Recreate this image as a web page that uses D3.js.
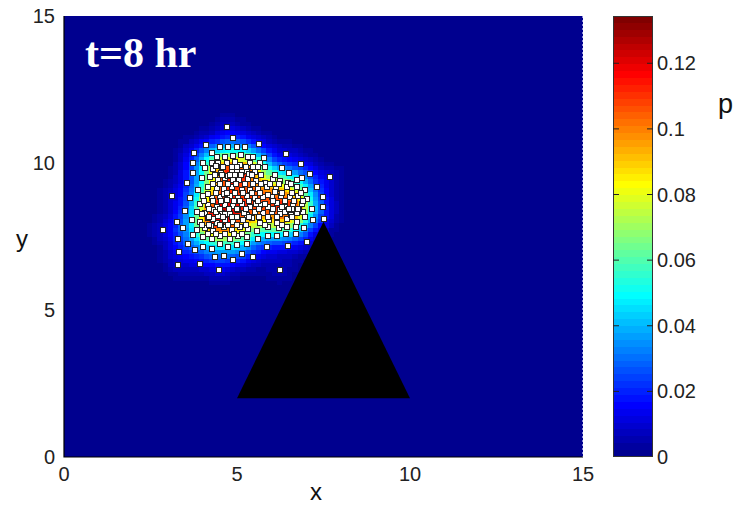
<!DOCTYPE html>
<html>
<head>
<meta charset="utf-8">
<script src="https://cdn.jsdelivr.net/npm/d3@7"></script>
<style>
  body { margin: 0; background: #fff; }
  text { font-family: Arial, "Liberation Sans", sans-serif; }
</style>
</head>
<body>
<div id="chart"></div>
<script>
// particle positions (x, y)
const partX = [
  4.70, 4.89, 4.10, 5.64, 4.51, 4.75, 5.01, 5.23,
  3.76, 4.27, 6.42, 4.41, 4.65, 4.89, 5.11, 5.33, 5.47, 5.79,
  3.72, 4.03, 4.27, 4.46, 4.70, 4.94, 5.09, 5.38, 5.67, 6.84,
  3.72, 4.08, 4.32, 4.56, 4.85, 5.01, 5.28, 5.52, 5.81, 6.30, 6.49, 7.11,
  3.55, 3.98, 4.22, 4.46, 4.65, 4.89, 5.07, 5.33, 5.55, 5.81, 6.03, 6.24, 6.46, 6.72, 6.87, 7.69,
  3.88, 4.17, 4.41, 4.61, 4.85, 5.14, 5.38, 5.62, 5.86, 6.13, 6.44, 6.72, 6.97, 7.30,
  3.12, 3.64, 4.03, 4.27, 4.51, 4.80, 5.04, 5.28, 5.52, 5.76, 6.00, 6.26, 6.53, 6.77, 7.01, 7.48,
  3.93, 4.17, 4.41, 4.65, 4.89, 5.14, 5.38, 5.67, 5.91, 6.15, 6.39, 6.63, 6.87, 7.16, 7.48,
  3.51, 3.84, 4.08, 4.32, 4.56, 4.80, 5.04, 5.28, 5.52, 5.76, 6.00, 6.24, 6.48, 6.72, 6.92, 7.50,
  3.26, 3.69, 3.93, 4.17, 4.41, 4.65, 4.89, 5.18, 5.42, 5.67, 5.93, 6.15, 6.44, 6.72, 6.97, 7.21,
  2.87, 3.45, 3.84, 4.08, 4.32, 4.61, 4.85, 5.09, 5.33, 5.57, 5.91, 6.20, 6.44, 6.70, 6.94,
  3.30, 3.74, 4.03, 4.27, 4.51, 4.80, 5.04, 5.28, 5.62, 5.91, 6.17, 6.42, 6.70, 7.01,
  3.31, 3.59, 3.79, 4.03, 4.27, 4.51, 4.75, 4.99, 5.28, 5.86, 6.46,
  4.36, 4.61, 4.89, 5.14, 5.45,
  3.30, 3.93, 4.49, 6.24,
  5.00, 5.15, 5.25, 5.35, 4.95,
  4.30, 4.45, 4.55, 4.25, 4.40, 4.65,
  6.25, 6.40, 6.55, 6.60, 6.30, 6.80,
  5.65, 5.80, 5.55,
  4.70, 4.62, 4.90,
  4.55, 4.75, 4.40,
  5.00, 5.20, 5.90, 6.10, 4.15, 4.00,
  4.60, 4.85, 5.45, 5.60,
  4.35, 4.58, 4.80, 5.12, 5.42, 5.70, 6.10,
  4.30, 4.52, 4.75, 4.98, 5.22, 5.46, 5.70, 5.95, 6.20, 6.55,
  4.40, 4.70, 4.95, 5.18, 5.42, 5.66, 6.30, 6.60, 6.85,
  4.05, 4.30, 4.55, 5.10, 5.35, 5.62, 6.05, 6.40, 6.65, 6.92,
  4.20, 4.52, 4.78, 5.00, 5.25, 6.05, 6.50, 6.75,
  4.20, 4.60, 4.85, 5.35, 5.65, 5.90, 6.15, 6.60,
  4.00, 4.20, 4.50, 4.75, 5.00, 5.25, 5.80, 6.30,
  4.15, 4.40, 4.65, 4.92, 5.15
];
const partY = [
  11.23, 10.84, 10.61, 10.64, 10.55, 10.55, 10.55, 10.55,
  10.35, 10.35, 10.30, 10.21, 10.21, 10.24, 10.27, 10.21, 10.21, 10.16,
  10.01, 10.01, 9.99, 10.01, 9.99, 10.04, 9.93, 10.01, 9.99, 9.96,
  9.67, 9.82, 9.78, 9.85, 9.74, 9.76, 9.74, 9.70, 9.85, 9.82, 9.67, 9.62,
  9.33, 9.48, 9.53, 9.42, 9.48, 9.42, 9.42, 9.44, 9.40, 9.33, 9.44, 9.40, 9.33, 9.42, 9.48, 9.51,
  9.08, 9.17, 9.14, 9.10, 9.19, 9.08, 9.08, 9.10, 9.17, 9.10, 9.17, 9.19, 9.08, 9.17,
  8.87, 8.80, 8.87, 8.80, 8.85, 8.87, 8.80, 8.87, 8.80, 8.83, 8.83, 8.87, 8.83, 8.87, 8.76, 8.83,
  8.60, 8.57, 8.51, 8.57, 8.53, 8.60, 8.51, 8.57, 8.49, 8.63, 8.51, 8.57, 8.60, 8.42, 8.49,
  8.38, 8.34, 8.29, 8.40, 8.31, 8.26, 8.40, 8.23, 8.34, 8.29, 8.34, 8.40, 8.40, 8.29, 8.34, 8.10,
  8.00, 8.06, 8.00, 8.12, 7.97, 8.06, 8.00, 8.06, 8.12, 7.97, 8.06, 7.95, 8.08, 8.00, 8.17, 8.06,
  7.72, 7.78, 7.72, 7.78, 7.70, 7.83, 7.72, 7.81, 7.74, 7.70, 7.81, 7.78, 7.83, 7.83, 7.78,
  7.43, 7.55, 7.49, 7.43, 7.51, 7.43, 7.51, 7.47, 7.43, 7.51, 7.51, 7.58, 7.58, 7.32,
  6.98, 7.26, 7.04, 7.15, 7.09, 7.26, 7.13, 7.21, 7.26, 7.13, 7.17,
  6.81, 6.85, 6.70, 6.92, 6.81,
  6.52, 6.58, 6.36, 6.36,
  9.85, 9.70, 9.88, 9.62, 9.60,
  8.10, 8.20, 7.90, 7.85, 8.35, 8.25,
  8.25, 8.35, 8.22, 8.45, 8.52, 8.45,
  8.45, 8.60, 8.62,
  8.75, 8.95, 8.70,
  9.65, 9.55, 9.90,
  8.15, 8.30, 8.90, 9.00, 8.95, 8.25,
  9.88, 9.88, 9.88, 9.88,
  9.58, 9.58, 9.58, 9.58, 9.58, 9.58, 9.58,
  9.27, 9.27, 9.27, 9.27, 9.27, 9.27, 9.27, 9.27, 9.27, 9.27,
  8.98, 8.98, 8.98, 8.98, 8.98, 8.98, 8.98, 8.98, 8.98,
  8.70, 8.70, 8.70, 8.70, 8.70, 8.70, 8.70, 8.70, 8.70, 8.70,
  8.45, 8.45, 8.45, 8.45, 8.45, 8.45, 8.45, 8.45,
  8.18, 8.18, 8.18, 8.18, 8.18, 8.18, 8.18, 8.18,
  7.88, 7.88, 7.88, 7.88, 7.88, 7.88, 7.88, 7.88,
  7.60, 7.60, 7.60, 7.60, 7.60
];

// obstacle corners
const triX = [5, 10, 7.5];
const triY = [2, 2, 8];

const xTicks = [0, 5, 10, 15];
const yTicks = [0, 5, 10, 15];
const cTicks = [0, 0.02, 0.04, 0.06, 0.08, 0.1, 0.12];
const cMax = 0.1344;
const label = "t=8 hr";

// MATLAB jet(64)
function jet(m) {
  const n = Math.ceil(m / 4);
  const u = [];
  for (let i = 1; i <= n; i++) u.push(i / n);
  for (let i = 1; i < n; i++) u.push(1);
  for (let i = n; i >= 1; i--) u.push(i / n);
  const g0 = Math.ceil(n / 2) - (m % 4 === 1 ? 1 : 0);
  const pick = (k) => (k >= 1 && k <= u.length ? u[k - 1] : 0);
  const out = [];
  for (let i = 1; i <= m; i++) {
    const r = pick(i - g0 - n), g = pick(i - g0), b = pick(i - g0 + n);
    out.push(d3.rgb(r * 255, g * 255, b * 255).formatHex());
  }
  return out;
}
const colors = jet(64);

const W = 739, H = 505;
const svg = d3.select("#chart").append("svg")
  .attr("width", W).attr("height", H);

const x = d3.scaleLinear().domain([0, 15]).range([64, 583]);
const y = d3.scaleLinear().domain([0, 15]).range([457, 16]);
const color = d3.scaleQuantize().domain([0, cMax]).range(colors);

// density field from the particles (gaussian kernel)
const nCell = 100, cell = 15 / nCell, h = 0.32;
const norm = 1 / (partX.length * 2 * Math.PI * h * h);
const cells = [];
for (let j = 0; j < nCell; j++) {
  for (let i = 0; i < nCell; i++) {
    const cx = (i + 0.5) * cell, cy = (j + 0.5) * cell;
    let s = 0;
    for (let k = 0; k < partX.length; k++) {
      const dx = partX[k] - cx, dy = partY[k] - cy;
      const d2 = dx * dx + dy * dy;
      if (d2 < 36 * h * h) s += Math.exp(-d2 / (2 * h * h));
    }
    cells.push({ i, j, p: s * norm });
  }
}

svg.append("g")
  .attr("shape-rendering", "crispEdges")
  .selectAll("rect")
  .data(cells)
  .join("rect")
  .attr("x", d => x(d.i * cell))
  .attr("y", d => y((d.j + 1) * cell))
  .attr("width", d => x((d.i + 1) * cell) - x(d.i * cell))
  .attr("height", d => y(d.j * cell) - y((d.j + 1) * cell))
  .attr("fill", d => color(d.p));

// obstacle
svg.append("polygon")
  .attr("points", triX.map((v, i) => `${x(v)},${y(triY[i])}`).join(" "))
  .attr("fill", "#000");

// particles
svg.append("g")
  .selectAll("rect")
  .data(partX.map((v, i) => [v, partY[i]]))
  .join("rect")
  .attr("x", d => Math.round(x(d[0])) - 2.5)
  .attr("y", d => Math.round(y(d[1])) - 2.5)
  .attr("width", 5)
  .attr("height", 5)
  .attr("fill", "#fff")
  .attr("stroke", "#222")
  .attr("stroke-width", 1);

// right edge artefact
svg.append("line")
  .attr("x1", x(15) - 0.5).attr("x2", x(15) - 0.5)
  .attr("y1", y(15)).attr("y2", y(0))
  .attr("stroke", "#8c8cd8").attr("stroke-dasharray", "2,2");

// axis frame
svg.append("path")
  .attr("d", `M${x(0)},${y(15)}V${y(0)}H${x(15)}`)
  .attr("fill", "none").attr("stroke", "#000").attr("stroke-width", 1.2);

// tick labels
svg.append("g").selectAll("text")
  .data(xTicks).join("text")
  .attr("x", d => x(d)).attr("y", 481)
  .attr("text-anchor", "middle")
  .attr("font-size", 20).attr("fill", "#222")
  .text(d => d);

svg.append("g").selectAll("text")
  .data(yTicks).join("text")
  .attr("x", 55).attr("y", d => y(d) + 7)
  .attr("text-anchor", "end")
  .attr("font-size", 20).attr("fill", "#222")
  .text(d => d);

svg.append("text").attr("x", 316).attr("y", 500)
  .attr("text-anchor", "middle").attr("font-size", 24).attr("fill", "#111").text("x");
svg.append("text").attr("x", 22).attr("y", 247)
  .attr("text-anchor", "middle").attr("font-size", 24).attr("fill", "#111").text("y");

svg.append("text").attr("x", 85).attr("y", 67)
  .style("font-family", "'Liberation Serif', 'Times New Roman', serif")
  .attr("font-weight", "bold").attr("font-size", 42).attr("fill", "#fff")
  .text(label);

// colorbar
const cb = { x0: 613, x1: 653 };
const cy = d3.scaleLinear().domain([0, cMax]).range([457, 16]);
const step = cMax / colors.length;
svg.append("g")
  .attr("shape-rendering", "crispEdges")
  .selectAll("rect")
  .data(colors).join("rect")
  .attr("x", cb.x0).attr("width", cb.x1 - cb.x0)
  .attr("y", (d, i) => cy((i + 1) * step))
  .attr("height", (d, i) => cy(i * step) - cy((i + 1) * step))
  .attr("fill", d => d);

svg.append("rect")
  .attr("x", cb.x0 + 0.5).attr("y", cy(cMax) + 0.5)
  .attr("width", cb.x1 - cb.x0 - 1).attr("height", cy(0) - cy(cMax) - 1)
  .attr("fill", "none").attr("stroke", "#333");

const ct = svg.append("g");
ct.selectAll("line.l").data(cTicks.slice(1)).join("line").attr("class", "l")
  .attr("x1", cb.x0).attr("x2", cb.x0 + 6)
  .attr("y1", d => cy(d)).attr("y2", d => cy(d))
  .attr("stroke", "#222");
ct.selectAll("line.r").data(cTicks.slice(1)).join("line").attr("class", "r")
  .attr("x1", cb.x1 - 6).attr("x2", cb.x1)
  .attr("y1", d => cy(d)).attr("y2", d => cy(d))
  .attr("stroke", "#222");
ct.selectAll("text").data(cTicks).join("text")
  .attr("x", 657).attr("y", d => cy(d) + 7)
  .attr("font-size", 20).attr("fill", "#222")
  .text(d => d);

svg.append("text").attr("x", 718).attr("y", 113)
  .attr("font-size", 27).attr("fill", "#111").text("p");
</script>
</body>
</html>
